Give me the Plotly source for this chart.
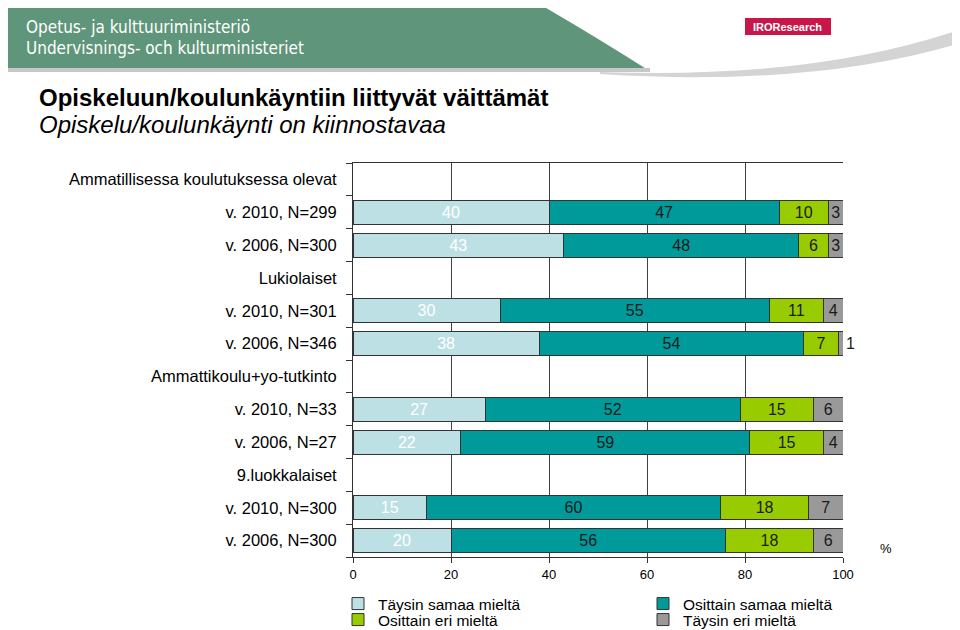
import plotly.graph_objects as go

# ---- data ----
row_labels = ["Ammatillisessa koulutuksessa olevat", "v. 2010, N=299", "v. 2006, N=300",
              "Lukiolaiset", "v. 2010, N=301", "v. 2006, N=346",
              "Ammattikoulu+yo-tutkinto", "v. 2010, N=33", "v. 2006, N=27",
              "9.luokkalaiset", "v. 2010, N=300", "v. 2006, N=300"]
taysin_samaa = [None, 40, 43, None, 30, 38, None, 27, 22, None, 15, 20]
osittain_samaa = [None, 47, 48, None, 55, 54, None, 52, 59, None, 60, 56]
osittain_eri = [None, 10, 6, None, 11, 7, None, 15, 15, None, 18, 18]
taysin_eri = [None, 3, 3, None, 4, 1, None, 6, 4, None, 7, 6]
series_names = ["Täysin samaa mieltä", "Osittain samaa mieltä", "Osittain eri mieltä", "Täysin eri mieltä"]
x_ticks = [0, 20, 40, 60, 80, 100]

colors = ["#bde0e4", "#009a9a", "#99cc00", "#999999"]
text_colors = ["#ffffff", "#1a1a1a", "#1a1a1a", "#1a1a1a"]
legends = ["legend", "legend", "legend2", "legend2"]
FONT = "Liberation Sans, Arial, sans-serif"

W, H = 960, 660
OFF = 8  # page offset of the figure
# target plot area in screen pixels
L, R, T, B = 353, 843, 163, 557


def px(x):
    return (x - L) / (R - L)


def py(y):
    return (B - y) / (B - T)


rows = list(range(len(row_labels)))
fig = go.Figure()
for i, (vals, name, c, tc, lg) in enumerate(zip([taysin_samaa, osittain_samaa, osittain_eri, taysin_eri],
                                                series_names, colors, text_colors, legends)):
    is_last = i == 3
    positions = [("outside" if (is_last and v is not None and v < 2) else "inside") for v in vals]
    fig.add_trace(go.Bar(
        y=rows, x=vals, name=name, orientation="h",
        marker=dict(color=c, line=dict(color="#333333", width=1)),
        text=[("" if v is None else str(v)) for v in vals],
        textposition=positions, insidetextanchor="middle", textangle=0,
        textfont=dict(color=tc, size=16, family=FONT),
        cliponaxis=False,
        hoverinfo="skip", legend=lg,
    ))

# header shapes
shapes = []
shapes.append(dict(type="path", xref="paper", yref="paper", layer="below",
                   path=f"M {px(-10)},{py(-10)} L {px(515)},{py(-10)} Q {px(585)},{py(30)} {px(648)},{py(70)} L {px(-10)},{py(70)} Z",
                   fillcolor="#5f957a", line=dict(width=0)))
shapes.append(dict(type="path", xref="paper", yref="paper", layer="below",
                   path=f"M {px(600)},{py(72)} Q {px(820)},{py(80)} {px(970)},{py(26)} L {px(970)},{py(40)} Q {px(820)},{py(88)} {px(600)},{py(74)} Z",
                   fillcolor="#d4d4d4", line=dict(width=0)))
shapes.append(dict(type="rect", xref="paper", yref="paper", layer="below",
                   x0=px(-10), x1=px(650), y0=py(68), y1=py(72),
                   fillcolor="#c8c8c8", line=dict(width=0)))
shapes.append(dict(type="rect", xref="paper", yref="paper",
                   x0=px(745), x1=px(831), y0=py(18), y1=py(35),
                   fillcolor="#c8164a", line=dict(width=0)))

HEAD_FONT = "DejaVu Sans Condensed, Liberation Sans Narrow, Liberation Sans, sans-serif"
annotations = [
    dict(text="Opetus- ja kulttuuriministeriö", x=px(24), y=py(27), xref="paper", yref="paper",
         xanchor="left", yanchor="middle", showarrow=False,
         font=dict(family=HEAD_FONT, size=17, color="white")),
    dict(text="Undervisnings- och kulturministeriet", x=px(24), y=py(48), xref="paper", yref="paper",
         xanchor="left", yanchor="middle", showarrow=False,
         font=dict(family=HEAD_FONT, size=17, color="white")),
    dict(text="<b>IROResearch</b>", x=px(787), y=py(27), xref="paper", yref="paper",
         xanchor="center", yanchor="middle", showarrow=False,
         font=dict(family=FONT, size=11, color="white")),
    dict(text="<b>Opiskeluun/koulunkäyntiin liittyvät väittämät</b>", x=px(37), y=py(97),
         xref="paper", yref="paper", xanchor="left", yanchor="middle", showarrow=False,
         font=dict(family=FONT, size=24, color="black")),
    dict(text="<i>Opiskelu/koulunkäynti on kiinnostavaa</i>", x=px(37), y=py(124),
         xref="paper", yref="paper", xanchor="left", yanchor="middle", showarrow=False,
         font=dict(family=FONT, size=24, color="black")),
    dict(text="%", x=px(886), y=py(548), xref="paper", yref="paper",
         xanchor="center", yanchor="middle", showarrow=False,
         font=dict(family=FONT, size=13, color="black")),
]

legend_common = dict(orientation="h", xanchor="left", yanchor="middle",
                     entrywidth=260, entrywidthmode="pixels", font=dict(size=15.5, family=FONT),
                     itemwidth=30, bgcolor="rgba(0,0,0,0)", traceorder="normal",
                     borderwidth=0)
fig.update_layout(
    width=W, height=H,
    margin=dict(l=L - OFF, r=W - (R - OFF), t=T - OFF, b=H - (B - OFF), pad=0),
    paper_bgcolor="white", plot_bgcolor="white",
    barmode="stack", bargap=0.27,
    font=dict(family=FONT, size=15, color="black"),
    uniformtext=dict(mode="show", minsize=16),
    shapes=shapes, annotations=annotations,
    legend=dict(x=px(338), y=py(604), **legend_common),
    legend2=dict(x=px(338), y=py(620), **legend_common),
    showlegend=True,
)
fig.update_xaxes(range=[0, 100], tickvals=x_ticks, showgrid=True, gridcolor="#404040", gridwidth=1,
                 showline=True, linecolor="#333333", linewidth=1, mirror=True,
                 ticks="outside", ticklen=5,
                 tickcolor="#333333", tickfont=dict(size=13), zeroline=False, fixedrange=True)
fig.update_yaxes(range=[11.5, -0.5], tickvals=rows, ticktext=row_labels, ticks="",
                 showline=True, linecolor="#333333", linewidth=1, showgrid=False, zeroline=False,
                 ticklabelstandoff=12,
                 minor=dict(ticks="outside", ticklen=6, tick0=0.5, dtick=1, tickcolor="#333333", showgrid=False),
                 tickfont=dict(size=16.5), fixedrange=True)

fig.write_html("out.html")
